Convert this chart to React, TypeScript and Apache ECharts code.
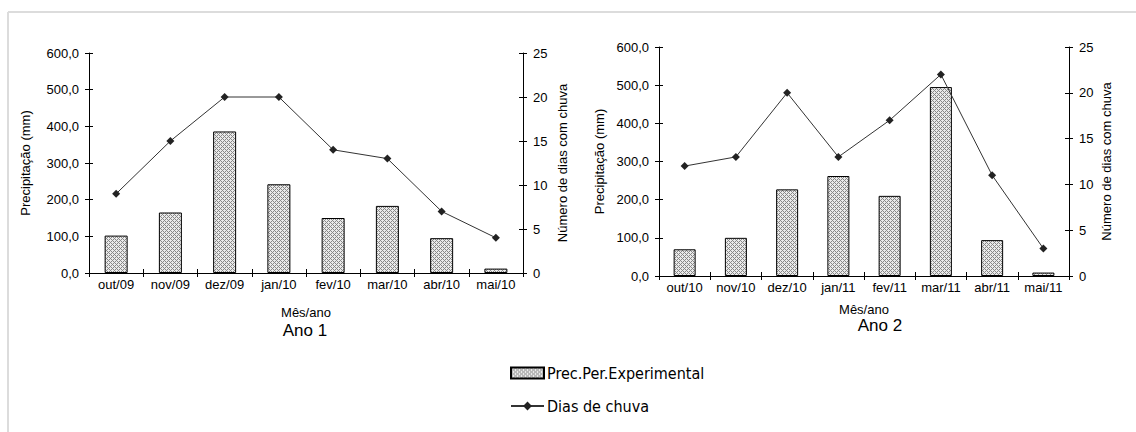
import React, { useEffect, useRef } from "react";
import * as echarts from "echarts";

const months1 = ["out/09", "nov/09", "dez/09", "jan/10", "fev/10", "mar/10", "abr/10", "mai/10"];
const months2 = ["out/10", "nov/10", "dez/10", "jan/11", "fev/11", "mar/11", "abr/11", "mai/11"];
const prec1 = [102, 165, 386, 242, 150, 183, 95, 12];
const prec2 = [70, 100, 227, 262, 210, 495, 94, 9];
const dias1 = [9, 15, 20, 20, 14, 13, 7, 4];
const dias2 = [12, 13, 20, 13, 17, 22, 11, 3];
const barName = "Prec.Per.Experimental";
const lineName = "Dias de chuva";

function makePattern(): string {
  const c = document.createElement("canvas");
  c.width = 4;
  c.height = 4;
  const ctx = c.getContext("2d")!;
  ctx.fillStyle = "#eaeaea";
  ctx.fillRect(0, 0, 4, 4);
  ctx.fillStyle = "#888888";
  for (let x = 0; x < 4; x++) {
    for (let y = 0; y < 4; y++) {
      if ((x + y) % 4 === 0 || (x - y + 4) % 4 === 0) ctx.fillRect(x, y, 1, 1);
    }
  }
  return c.toDataURL();
}

const FONT = "'Liberation Sans', Arial, sans-serif";
const NARROW = "'Liberation Sans Narrow', 'DejaVu Sans Condensed', 'Liberation Sans', sans-serif";

export default function App() {
  const ref = useRef<HTMLDivElement>(null);
  useEffect(() => {
    if (!ref.current) return;
    const chart = echarts.init(ref.current, undefined, { renderer: "svg" });
    const pattern = { image: makePattern(), repeat: "repeat", imageWidth: 4, imageHeight: 4 } as any;
    const fmt = (v: number) => v.toFixed(1).replace(".", ",");
    const lab = { color: "#000", fontSize: 13, fontFamily: FONT };
    const axLine = { show: true, lineStyle: { color: "#000", width: 1 } };
    const tick = { show: true, length: 4, lineStyle: { color: "#000" } };
    const tickIn = { show: true, inside: true, length: 4, lineStyle: { color: "#000" } };
    const xAx = (idx: number, data: string[], gap: number, margin: number) => ({
      type: "category",
      gridIndex: idx,
      data,
      axisLine: axLine,
      axisTick: tick,
      axisLabel: { ...lab, margin, interval: 0 },
      name: "Mês/ano",
      nameLocation: "middle",
      nameGap: gap,
      nameTextStyle: lab,
    });
    const xIn = (idx: number, data: string[]) => ({
      type: "category",
      gridIndex: idx,
      data,
      axisLine: { show: false },
      axisTick: tickIn,
      axisLabel: { show: false },
      position: "bottom",
    });
    const yLeft = (idx: number, gap: number) => ({
      type: "value",
      gridIndex: idx,
      min: 0,
      max: 600,
      interval: 100,
      position: "left",
      axisLine: axLine,
      axisTick: tick,
      splitLine: { show: false },
      axisLabel: { ...lab, margin: 10, formatter: fmt },
      name: "Precipitação (mm)",
      nameLocation: "middle",
      nameGap: gap,
      nameTextStyle: lab,
    });
    const yRight = (idx: number, gap: number) => ({
      type: "value",
      gridIndex: idx,
      min: 0,
      max: 25,
      interval: 5,
      position: "right",
      axisLine: axLine,
      axisTick: tick,
      splitLine: { show: false },
      axisLabel: { ...lab, margin: 10 },
      name: "Número de dias com chuva",
      nameLocation: "middle",
      nameGap: gap,
      nameTextStyle: lab,
    });
    const yIn = (idx: number, pos: string, max: number, interval: number) => ({
      type: "value",
      gridIndex: idx,
      min: 0,
      max,
      interval,
      position: pos,
      offset: 0,
      axisLine: { show: false },
      axisTick: tickIn,
      splitLine: { show: false },
      axisLabel: { show: false },
    });
    const bar = (xi: number, yi: number, data: number[], w: number) => ({
      type: "bar",
      name: barName,
      xAxisIndex: xi,
      yAxisIndex: yi,
      data,
      barWidth: w,
      itemStyle: { color: pattern, borderColor: "#000", borderWidth: 1 },
    });
    const line = (xi: number, yi: number, data: number[]) => ({
      type: "line",
      name: lineName,
      xAxisIndex: xi,
      yAxisIndex: yi,
      data,
      symbol: "diamond",
      symbolSize: 8,
      lineStyle: { color: "#333", width: 1 },
      itemStyle: { color: "#222" },
    });
    chart.setOption({
      animation: false,
      backgroundColor: "#fff",
      grid: [
        { left: 89, right: 613, top: 53, bottom: 159, containLabel: false },
        { left: 659, right: 67, top: 47, bottom: 156, containLabel: false },
      ],
      xAxis: [xAx(0, months1, 33, 5), xAx(1, months2, 27, 5), xIn(0, months1), xIn(1, months2)],
      yAxis: [
        yLeft(0, 57),
        yRight(0, 33),
        yLeft(1, 53),
        yRight(1, 31),
        yIn(0, "left", 600, 100),
        yIn(0, "right", 25, 5),
        yIn(1, "left", 600, 100),
        yIn(1, "right", 25, 5),
      ],
      legend: {
        orient: "vertical",
        left: 505,
        top: 360,
        itemWidth: 33,
        itemHeight: 11,
        itemGap: 17,
        textStyle: { color: "#000", fontSize: 16, fontFamily: NARROW, padding: [0, 0, 0, -2] },
        data: [{ name: barName, icon: "rect" }, { name: lineName }],
      },
      graphic: [
        { type: "line", shape: { x1: 8, y1: 12, x2: 1136, y2: 12 }, style: { stroke: "#dcdcdc", lineWidth: 2 } },
        { type: "line", shape: { x1: 8, y1: 12, x2: 8, y2: 432 }, style: { stroke: "#dcdcdc", lineWidth: 2 } },
        {
          type: "text",
          x: 305,
          y: 330,
          style: { text: "Ano 1", align: "center", verticalAlign: "middle", fontSize: 17, fontFamily: FONT, fill: "#000" },
        },
        {
          type: "text",
          x: 880,
          y: 325,
          style: { text: "Ano 2", align: "center", verticalAlign: "middle", fontSize: 17, fontFamily: FONT, fill: "#000" },
        },
      ],
      series: [bar(0, 0, prec1, 23), line(0, 1, dias1), bar(1, 2, prec2, 22), line(1, 3, dias2)],
    });
    return () => chart.dispose();
  }, []);
  return <div ref={ref} style={{ position: "fixed", left: 0, top: 0, width: 1136, height: 432 }} />;
}
